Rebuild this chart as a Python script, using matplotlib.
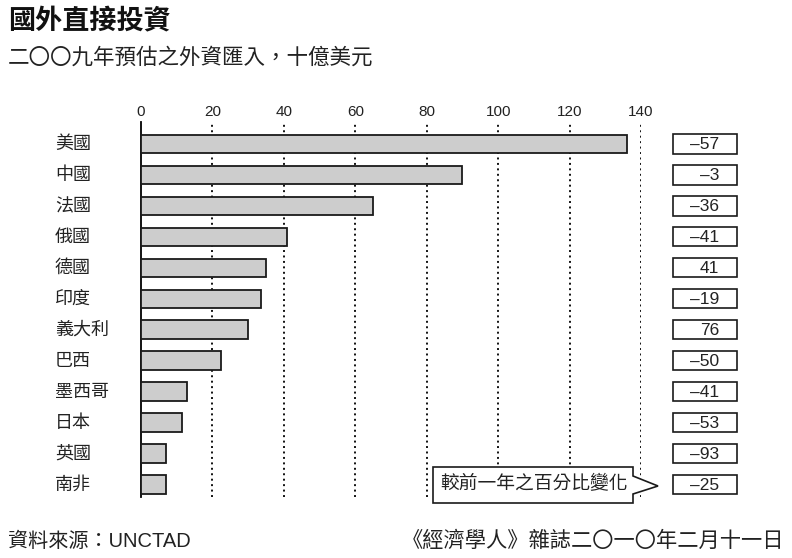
import matplotlib
matplotlib.use("Agg")
import matplotlib.pyplot as plt
from matplotlib.patches import Rectangle, Polygon
from matplotlib.transforms import blended_transform_factory

plt.rcParams['font.family'] = ['Noto Sans CJK TC', 'DejaVu Sans']
latin = ['Liberation Sans', 'Noto Sans CJK TC', 'DejaVu Sans']

# data (billions of dollars, 2009 estimate) and % change on previous year
countries = ['美國', '中國', '法國', '俄國', '德國', '印度', '義大利', '巴西', '墨西哥', '日本', '英國', '南非']
inflows = [136, 90, 65, 41, 35, 33.5, 30, 22.5, 13, 11.5, 7, 7]
change = [-57, -3, -36, -41, 41, -19, 76, -50, -41, -53, -93, -25]
ticks = [0, 20, 40, 60, 80, 100, 120, 140]

W, H = 792, 558
fig = plt.figure(figsize=(W / 100, H / 100), dpi=100)
ax = fig.add_axes([141 / W, 1 - 497 / H, 500 / W, 375 / H])

ypos = list(range(len(countries)))
ax.barh(ypos, inflows, height=0.6, color='#cdcdcd', edgecolor='#1a1a1a', linewidth=1.3, zorder=3)

ax.set_xlim(0, 140)
ax.set_ylim(11.4, -0.71)

# dotted grid lines
for t in ticks[1:]:
    ax.axvline(t, color='#111111', linestyle=(0, (1, 1.8)), linewidth=1.4, zorder=1)

for s in ['top', 'right', 'bottom']:
    ax.spines[s].set_visible(False)
ax.spines['left'].set_linewidth(1.3)

ax.xaxis.tick_top()
ax.set_xticks(ticks)
ax.set_xticklabels([str(t) for t in ticks], fontsize=11, color='#222222', family=latin)
ax.tick_params(axis='x', length=0, pad=2)
ax.set_yticks([])

# country labels
trans_lab = blended_transform_factory(fig.transFigure, ax.transData)
for y, name in zip(ypos, countries):
    ax.text(55 / W, y, name, transform=trans_lab, ha='left', va='center',
            fontsize=13, color='#222222')

# change boxes on the right
trans = blended_transform_factory(ax.transAxes, ax.transData)
bx0 = (673 - 141) / 500
bw = 64 / 500
for y, c in zip(ypos, change):
    ax.add_patch(Rectangle((bx0, y - 0.31), bw, 0.62, transform=trans, clip_on=False,
                           facecolor='white', edgecolor='#1a1a1a', linewidth=1.2))
    lab = str(c).replace('-', '–')
    ax.text((719 - 141) / 500, y + 0.02, lab, transform=trans, ha='right', va='center',
            fontsize=12.5, color='#222222', family=latin)

# callout
px = lambda x, y: (x / W, 1 - y / H)
pts = [px(433, 467), px(633, 467), px(633, 476), px(658, 486), px(633, 494),
       px(633, 503), px(433, 503)]
fig.patches.append(Polygon(pts, closed=True, transform=fig.transFigure,
                           facecolor='white', edgecolor='#1a1a1a', linewidth=1.2, zorder=5))
fig.text(534 / W, 1 - 484 / H, '較前一年之百分比變化', ha='center', va='center',
         fontsize=13.5, color='#222222', zorder=6)

# titles
fig.text(8 / W, 1 - 21 / H, '國外直接投資', ha='left', va='center',
         fontsize=19.5, fontweight='bold', color='#111111')
fig.text(8 / W, 1 - 58 / H, '二〇〇九年預估之外資匯入，十億美元', ha='left', va='center',
         fontsize=15.5, color='#222222')

# footer
fig.text(8 / W, 1 - 541 / H, '資料來源：UNCTAD', ha='left', va='center',
         fontsize=14.5, color='#222222', family=latin)
fig.text(784 / W, 1 - 541 / H, '《經濟學人》雜誌二〇一〇年二月十一日', ha='right', va='center',
         fontsize=15.3, color='#222222')

fig.savefig('out.png', dpi=100)
